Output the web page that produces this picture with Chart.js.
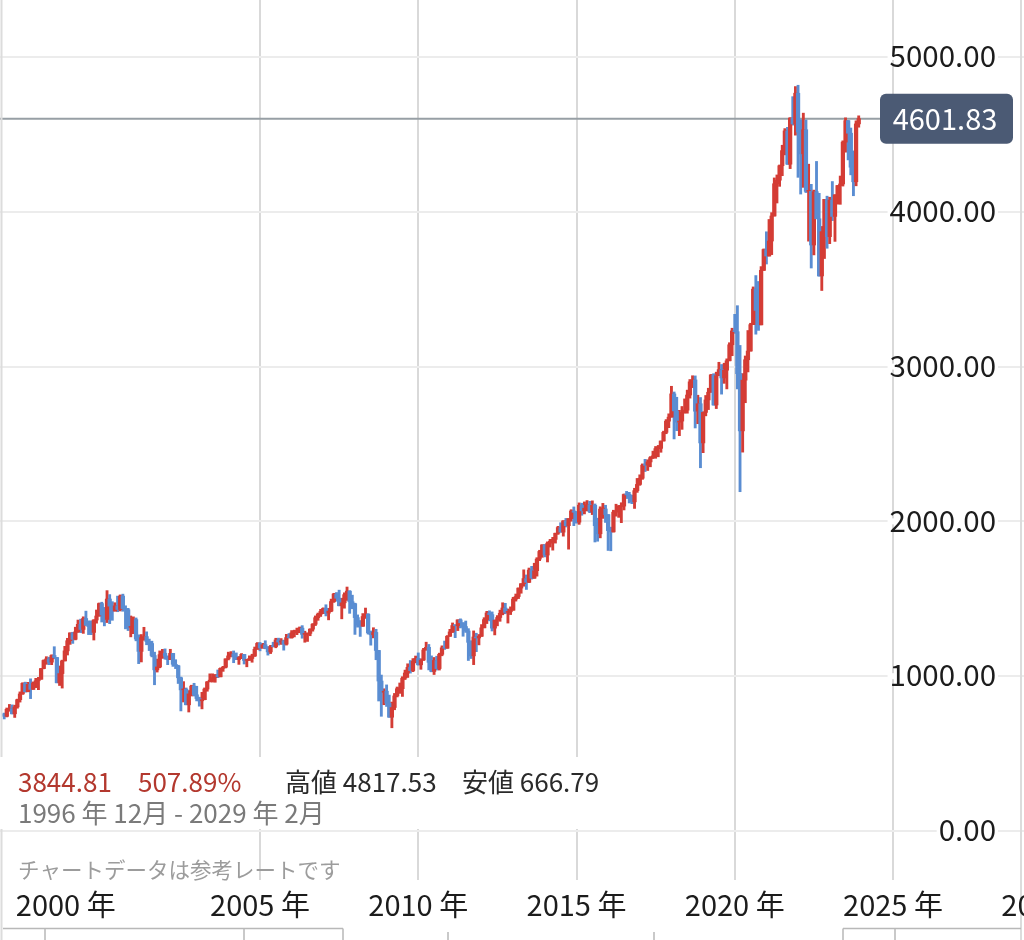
<!DOCTYPE html>
<html><head><meta charset="utf-8">
<script src="https://cdn.jsdelivr.net/npm/chart.js@4.4.1/dist/chart.umd.min.js"></script>
<style>html,body{margin:0;padding:0;background:#fff;overflow:hidden}#wrap{position:relative;width:1024px;height:940px}canvas{display:block}</style>
</head><body><div id="wrap"><canvas id="c" width="1024" height="940"></canvas></div>
<script>
// Monthly candles, S&P 500, Dec 1996 .. Dec 2023
const firstYear = 1996, firstMonth = 12;
const opens = [
757.02,
740.74,786.16,790.82,757.12,801.34,848.28,885.14,954.31,899.47,947.28,914.62,955.40,
970.43,980.28,1049.34,1101.75,1111.75,1090.82,1133.84,1120.67,957.28,1017.01,1098.67,1163.63,
1229.23,1279.64,1238.33,1286.37,1335.18,1301.84,1372.71,1328.72,1320.41,1282.71,1362.93,1388.91,
1469.25,1394.46,1366.42,1498.58,1452.43,1420.60,1454.60,1430.83,1517.68,1436.51,1429.40,1314.95,
1320.28,1366.01,1239.94,1160.33,1249.46,1255.82,1224.38,1211.23,1133.58,1040.94,1059.78,1139.45,
1148.08,1130.20,1106.73,1147.39,1076.92,1067.14,989.82,911.62,916.07,815.28,885.76,936.31,
879.82,855.70,841.15,848.18,916.92,963.59,974.50,990.31,1008.01,995.97,1050.71,1058.20,
1111.92,1131.13,1144.94,1126.21,1107.30,1120.68,1140.84,1101.72,1104.24,1114.58,1130.20,1173.82,
1211.92,1181.27,1203.60,1180.59,1156.85,1191.50,1191.33,1234.18,1220.33,1228.81,1207.01,1249.48,
1248.29,1280.08,1280.66,1294.83,1310.61,1270.09,1270.20,1276.66,1303.82,1335.85,1377.94,1400.63,
1418.30,1438.24,1406.82,1420.86,1482.37,1530.62,1503.35,1455.27,1473.99,1526.75,1549.38,1481.14,
1468.36,1378.55,1330.63,1322.70,1385.59,1400.38,1280.00,1267.38,1282.83,1166.36,968.75,896.24,
903.25,825.88,735.09,797.87,872.81,919.14,919.32,987.48,1020.62,1057.08,1036.19,1095.63,
1115.10,1073.87,1104.49,1169.43,1186.69,1089.41,1030.71,1101.60,1049.33,1141.20,1183.26,1180.55,
1257.64,1286.12,1327.22,1325.83,1363.61,1345.20,1320.64,1292.28,1218.89,1131.42,1253.30,1246.96,
1257.60,1312.41,1365.68,1408.47,1397.91,1310.33,1362.16,1379.32,1406.58,1440.67,1412.16,1416.18,
1426.19,1498.11,1514.68,1569.19,1597.57,1630.74,1606.28,1685.73,1632.97,1681.55,1756.54,1805.81,
1848.36,1782.59,1859.45,1872.34,1883.95,1923.57,1960.23,1930.67,2003.37,1972.29,2018.05,2067.56,
2058.90,1994.99,2104.50,2067.89,2085.51,2107.39,2063.11,2103.84,1972.18,1920.03,2079.36,2080.41,
2043.94,1940.24,1932.23,2059.74,2065.30,2096.95,2098.86,2173.60,2170.95,2168.27,2126.15,2198.81,
2238.83,2278.87,2363.64,2362.72,2384.20,2411.80,2423.41,2470.30,2471.65,2519.36,2575.26,2647.58,
2673.61,2823.81,2713.83,2640.87,2648.05,2705.27,2718.37,2816.29,2901.52,2913.98,2711.74,2760.17,
2506.85,2704.10,2784.49,2834.40,2945.83,2752.06,2941.76,2980.38,2926.46,2976.74,3037.56,3140.98,
3230.78,3225.52,2954.22,2584.59,2912.43,3044.31,3100.29,3271.12,3500.31,3363.00,3269.96,3621.63,
3756.07,3714.24,3811.15,3972.89,4181.17,4204.11,4297.50,4395.26,4522.68,4307.54,4605.38,4567.00,
4766.18,4515.55,4373.94,4530.41,4131.93,4132.15,3785.38,4130.29,3955.00,3585.62,3871.98,4080.11,
3839.50,4076.60,3970.15,4109.31,4169.48,4179.83,4450.38,4588.96,4507.66,4288.05,4193.80,4567.80
];
const highs = [
761.75,
794.67,817.68,814.90,812.93,851.87,898.70,957.73,961.63,960.46,983.12,963.18,986.25,
992.65,1050.02,1105.65,1126.16,1123.03,1138.49,1190.58,1121.33,1066.11,1103.78,1192.97,1244.93,
1280.05,1283.83,1316.55,1362.80,1368.62,1383.65,1420.33,1357.69,1357.74,1365.33,1427.67,1473.10,
1478.00,1444.55,1552.87,1527.19,1481.51,1474.64,1517.32,1525.21,1530.09,1454.82,1438.46,1389.06,
1383.37,1376.38,1267.42,1269.30,1315.93,1286.62,1239.78,1226.27,1155.40,1110.61,1163.38,1173.62,
1176.55,1130.20,1173.94,1147.84,1106.59,1070.74,994.46,965.00,924.02,907.44,941.82,954.28,
935.05,864.64,895.90,924.24,965.38,1015.33,1015.41,1011.01,1040.29,1053.79,1063.65,1112.56,
1155.38,1158.98,1163.23,1150.57,1127.74,1146.34,1140.84,1109.68,1131.54,1142.05,1188.46,1217.33,
1217.80,1212.44,1229.11,1191.88,1199.56,1219.59,1245.15,1245.86,1243.13,1233.34,1270.64,1275.80,
1294.90,1297.57,1310.88,1318.16,1326.70,1290.68,1280.42,1306.74,1340.28,1389.45,1407.89,1431.81,
1441.61,1461.57,1438.89,1498.02,1535.56,1540.56,1555.90,1503.89,1538.74,1576.09,1552.76,1523.57,
1471.77,1396.02,1359.68,1404.57,1440.24,1404.05,1292.17,1313.15,1303.04,1167.03,1007.51,918.85,
943.85,877.86,832.98,888.70,930.17,956.23,996.68,1039.47,1080.15,1101.36,1113.69,1130.38,
1150.45,1112.42,1180.16,1219.80,1205.13,1131.23,1120.95,1129.24,1148.90,1196.14,1227.08,1262.60,
1302.67,1344.07,1332.28,1364.56,1370.58,1345.20,1356.48,1307.38,1229.29,1292.66,1277.55,1269.37,
1333.47,1378.04,1419.15,1422.38,1415.32,1363.46,1391.74,1426.68,1474.51,1470.96,1434.27,1448.00,
1509.94,1530.94,1570.28,1597.57,1687.18,1654.19,1698.78,1709.67,1729.86,1765.67,1813.55,1849.44,
1850.84,1867.92,1883.97,1897.28,1924.03,1968.17,1991.39,2005.04,2019.26,2018.19,2075.76,2093.55,
2064.43,2119.59,2117.52,2125.92,2134.72,2129.87,2132.82,2112.66,2020.86,2094.32,2116.48,2104.27,
2044.02,1962.96,2072.21,2111.05,2103.48,2120.55,2177.09,2193.81,2187.87,2169.60,2214.10,2277.53,
2300.99,2371.54,2400.98,2398.16,2418.71,2453.82,2484.04,2490.87,2519.44,2582.98,2657.74,2694.97,
2872.87,2835.96,2801.90,2717.49,2742.24,2791.47,2848.03,2916.50,2940.91,2939.86,2815.15,2800.18,
2708.95,2813.49,2860.31,2949.52,2954.13,2964.15,3027.98,3013.59,3021.99,3050.10,3154.26,3247.93,
3337.77,3393.52,3136.72,2954.86,3068.67,3233.13,3279.99,3514.77,3588.11,3549.85,3645.99,3760.20,
3870.90,3950.43,3994.41,4218.78,4238.04,4302.43,4429.97,4537.36,4545.85,4608.08,4743.83,4808.93,
4817.53,4595.31,4637.30,4593.45,4307.66,4177.51,4140.15,4325.28,4119.28,3905.42,4080.11,4100.96,
4094.21,4195.44,4110.75,4170.06,4231.10,4458.48,4607.07,4590.00,4541.25,4393.57,4587.64,4620.00
];
const lows = [
723.80,
737.01,773.43,756.13,733.54,793.21,832.74,882.96,896.85,899.47,855.27,914.62,926.18,
912.83,980.28,1047.72,1076.70,1074.39,1074.67,1112.44,957.28,939.98,923.32,1098.67,1136.89,
1205.46,1211.89,1234.55,1282.56,1281.41,1276.53,1328.72,1268.68,1268.37,1233.66,1342.51,1387.38,
1350.14,1325.07,1346.62,1339.40,1361.09,1420.60,1416.54,1421.40,1419.44,1305.79,1294.90,1254.07,
1274.62,1228.42,1081.19,1091.99,1232.00,1203.03,1165.54,1124.87,944.75,1026.76,1054.31,1114.93,
1109.61,1074.36,1106.73,1063.46,1048.96,952.92,775.68,833.44,815.28,768.63,872.05,871.84,
840.34,806.29,788.90,847.85,902.83,963.59,962.10,960.84,990.36,995.97,1031.20,1053.41,
1105.08,1124.44,1087.16,1107.23,1076.32,1113.32,1078.78,1060.72,1101.29,1090.19,1127.60,1173.76,
1163.75,1180.95,1176.92,1136.15,1146.18,1188.30,1183.55,1201.07,1205.35,1168.20,1201.07,1246.59,
1245.74,1253.61,1268.42,1280.74,1245.34,1219.29,1224.54,1261.30,1290.93,1327.10,1360.98,1385.93,
1403.97,1389.42,1363.98,1416.37,1476.70,1484.18,1454.25,1370.60,1439.29,1489.56,1406.10,1435.65,
1270.05,1316.75,1256.98,1322.00,1373.07,1272.00,1200.44,1247.45,1106.42,839.80,741.02,815.69,
804.47,734.52,666.79,783.32,866.10,888.86,869.32,978.51,991.97,1019.95,1029.38,1085.89,
1071.59,1044.50,1101.36,1168.00,1040.78,1028.33,1010.91,1039.70,1039.70,1131.87,1173.00,1180.00,
1257.62,1282.00,1249.05,1294.70,1311.80,1258.07,1282.86,1101.54,1114.22,1074.77,1158.66,1202.37,
1257.00,1312.41,1340.03,1357.38,1291.98,1266.74,1325.41,1354.65,1396.56,1403.28,1343.35,1398.11,
1426.19,1485.01,1501.48,1536.03,1581.28,1560.33,1604.57,1627.47,1632.00,1646.47,1746.20,1767.99,
1770.45,1737.92,1834.44,1814.36,1859.79,1915.98,1930.67,1904.78,1964.04,1820.66,2001.01,1972.56,
1988.44,1980.90,2039.69,2048.38,2067.93,2056.32,2044.02,1867.01,1871.91,1893.70,2019.39,1993.26,
1812.29,1810.10,1931.00,2033.80,2025.91,1991.68,2074.02,2147.58,2119.12,2114.72,2083.79,2187.44,
2233.00,2271.65,2322.25,2328.95,2352.72,2405.70,2407.70,2417.35,2446.55,2519.00,2566.33,2605.52,
2673.00,2532.69,2585.89,2553.80,2594.62,2698.67,2698.95,2796.34,2864.12,2603.54,2631.09,2346.58,
2443.96,2681.83,2722.27,2834.00,2750.52,2728.81,2941.00,2822.12,2891.85,2855.94,3037.00,3070.33,
3214.64,2855.84,2191.86,2447.49,2766.64,2965.66,3100.00,3271.00,3209.45,3233.94,3269.00,3621.00,
3662.71,3714.00,3723.34,3972.00,4056.88,4164.40,4233.13,4367.73,4305.91,4278.94,4560.00,4495.12,
4222.62,4114.65,4157.87,4124.28,3810.32,3636.87,3721.56,3954.53,3584.13,3491.58,3698.15,3764.49,
3794.33,3943.08,3808.86,4049.35,4048.28,4166.15,4385.05,4335.31,4238.63,4103.78,4167.86,4546.50
];
const closes = [
740.74,
786.16,790.82,757.12,801.34,848.28,885.14,954.31,899.47,947.28,914.62,955.40,970.43,
980.28,1049.34,1101.75,1111.75,1090.82,1133.84,1120.67,957.28,1017.01,1098.67,1163.63,1229.23,
1279.64,1238.33,1286.37,1335.18,1301.84,1372.71,1328.72,1320.41,1282.71,1362.93,1388.91,1469.25,
1394.46,1366.42,1498.58,1452.43,1420.60,1454.60,1430.83,1517.68,1436.51,1429.40,1314.95,1320.28,
1366.01,1239.94,1160.33,1249.46,1255.82,1224.38,1211.23,1133.58,1040.94,1059.78,1139.45,1148.08,
1130.20,1106.73,1147.39,1076.92,1067.14,989.82,911.62,916.07,815.28,885.76,936.31,879.82,
855.70,841.15,848.18,916.92,963.59,974.50,990.31,1008.01,995.97,1050.71,1058.20,1111.92,
1131.13,1144.94,1126.21,1107.30,1120.68,1140.84,1101.72,1104.24,1114.58,1130.20,1173.82,1211.92,
1181.27,1203.60,1180.59,1156.85,1191.50,1191.33,1234.18,1220.33,1228.81,1207.01,1249.48,1248.29,
1280.08,1280.66,1294.83,1310.61,1270.09,1270.20,1276.66,1303.82,1335.85,1377.94,1400.63,1418.30,
1438.24,1406.82,1420.86,1482.37,1530.62,1503.35,1455.27,1473.99,1526.75,1549.38,1481.14,1468.36,
1378.55,1330.63,1322.70,1385.59,1400.38,1280.00,1267.38,1282.83,1166.36,968.75,896.24,903.25,
825.88,735.09,797.87,872.81,919.14,919.32,987.48,1020.62,1057.08,1036.19,1095.63,1115.10,
1073.87,1104.49,1169.43,1186.69,1089.41,1030.71,1101.60,1049.33,1141.20,1183.26,1180.55,1257.64,
1286.12,1327.22,1325.83,1363.61,1345.20,1320.64,1292.28,1218.89,1131.42,1253.30,1246.96,1257.60,
1312.41,1365.68,1408.47,1397.91,1310.33,1362.16,1379.32,1406.58,1440.67,1412.16,1416.18,1426.19,
1498.11,1514.68,1569.19,1597.57,1630.74,1606.28,1685.73,1632.97,1681.55,1756.54,1805.81,1848.36,
1782.59,1859.45,1872.34,1883.95,1923.57,1960.23,1930.67,2003.37,1972.29,2018.05,2067.56,2058.90,
1994.99,2104.50,2067.89,2085.51,2107.39,2063.11,2103.84,1972.18,1920.03,2079.36,2080.41,2043.94,
1940.24,1932.23,2059.74,2065.30,2096.95,2098.86,2173.60,2170.95,2168.27,2126.15,2198.81,2238.83,
2278.87,2363.64,2362.72,2384.20,2411.80,2423.41,2470.30,2471.65,2519.36,2575.26,2647.58,2673.61,
2823.81,2713.83,2640.87,2648.05,2705.27,2718.37,2816.29,2901.52,2913.98,2711.74,2760.17,2506.85,
2704.10,2784.49,2834.40,2945.83,2752.06,2941.76,2980.38,2926.46,2976.74,3037.56,3140.98,3230.78,
3225.52,2954.22,2584.59,2912.43,3044.31,3100.29,3271.12,3500.31,3363.00,3269.96,3621.63,3756.07,
3714.24,3811.15,3972.89,4181.17,4204.11,4297.50,4395.26,4522.68,4307.54,4605.38,4567.00,4766.18,
4515.55,4373.94,4530.41,4131.93,4132.15,3785.38,4130.29,3955.00,3585.62,3871.98,4080.11,3839.50,
4076.60,3970.15,4109.31,4169.48,4179.83,4450.38,4588.96,4507.66,4288.05,4193.80,4567.80,4601.83
];
const yTickValues = [0, 1000, 2000, 3000, 4000, 5000];
const xTickYears = [2000, 2005, 2010, 2015, 2020, 2025, 2030];
const rangeText = '1996 年 12月 - 2029 年 2月';
const noteText = 'チャートデータは参考レートです';

// ---- build ----
const xVals = closes.map((_, i) => {
  const m = (firstMonth - 1) + i;
  return firstYear + Math.floor(m / 12) + (m % 12) / 12;
});
const UP = '#d43c35', DOWN = '#5a8dd2';
const isUp = i => closes[i] >= opens[i];
const colorFn = ctx => isUp(ctx.dataIndex) ? UP : DOWN;
const FONT = '"Noto Sans CJK JP", "Noto Sans", sans-serif';

const decor = {
  id: 'decor',
  beforeDatasetsDraw(chart) {
    const ctx = chart.ctx, ys = chart.scales.y;
    const py = ys.getPixelForValue(closes[closes.length - 1]);
    ctx.save();
    ctx.strokeStyle = '#979fa5'; ctx.lineWidth = 2;
    ctx.beginPath(); ctx.moveTo(0, py); ctx.lineTo(880, py); ctx.stroke();
    ctx.restore();
  },
  afterDraw(chart) {
    const ctx = chart.ctx, ys = chart.scales.y, xs = chart.scales.x;
    ctx.save();
    // borders
    ctx.strokeStyle = '#dcdcdc'; ctx.lineWidth = 2;
    ctx.beginPath(); ctx.moveTo(1.5, 0); ctx.lineTo(1.5, 940); ctx.stroke();
    ctx.beginPath(); ctx.moveTo(1021, 0); ctx.lineTo(1021, 940); ctx.stroke();

    // y tick labels
    ctx.font = '29.5px ' + FONT;
    ctx.textAlign = 'right'; ctx.textBaseline = 'middle';
    yTickValues.forEach(v => {
      const y = ys.getPixelForValue(v);
      const t = v.toFixed(2);
      const w = ctx.measureText(t).width;
      ctx.fillStyle = '#ffffff';
      ctx.fillRect(996 - w - 2, y - 3, w + 4, 6);
      ctx.fillStyle = '#1c1c1c';
      ctx.fillText(t, 996, y - 1);
    });

    // x labels
    ctx.font = '29px ' + FONT;
    ctx.textAlign = 'center'; ctx.fillStyle = '#1c1c1c';
    xTickYears.forEach(yr => {
      let x = xs.getPixelForValue(yr);
      if (yr === xTickYears[0]) x -= 36;
      ctx.fillText(yr + ' 年', x, 905);
    });

    // price tag
    const last = closes[closes.length - 1];
    const py = ys.getPixelForValue(last);
    ctx.fillStyle = '#4b5a74';
    ctx.beginPath();
    if (ctx.roundRect) ctx.roundRect(880, py - 25, 133, 50, 6); else ctx.rect(880, py - 25, 133, 50);
    ctx.fill();
    ctx.fillStyle = '#ffffff'; ctx.font = '29px ' + FONT; ctx.textAlign = 'center';
    ctx.fillText(last.toFixed(2), 945, py);

    // info box
    ctx.fillStyle = '#ffffff';
    ctx.fillRect(0, 757, 605, 72);
    ctx.textAlign = 'left'; ctx.textBaseline = 'middle';
    const chg = last - opens[0];
    const pct = chg / opens[0] * 100;
    ctx.font = '26px ' + FONT;
    ctx.fillStyle = '#b3382e';
    ctx.fillText(chg.toFixed(2), 18, 782);
    ctx.fillText(pct.toFixed(2) + '%', 138, 782);
    ctx.fillStyle = '#2a2a2a';
    ctx.fillText('高値 ' + Math.max(...highs).toFixed(2), 285, 782);
    ctx.fillText('安値 ' + Math.min(...lows).toFixed(2), 462, 782);
    ctx.fillStyle = '#7a7a7a';
    ctx.fillText(rangeText, 18, 813);
    ctx.font = '21.5px ' + FONT;
    ctx.fillStyle = '#9c9c9c';
    ctx.fillText(noteText, 18, 870);

    // navigator strip
    ctx.strokeStyle = '#b8b8b8'; ctx.lineWidth = 1.5;
    ctx.beginPath();
    ctx.moveTo(3, 928.5); ctx.lineTo(343, 928.5);
    ctx.moveTo(843, 928.5); ctx.lineTo(1021, 928.5);
    [45, 244, 343, 843, 895].forEach(x => { ctx.moveTo(x, 928.5); ctx.lineTo(x, 940); });
    [448, 654].forEach(x => { ctx.moveTo(x, 932); ctx.lineTo(x, 940); });
    ctx.stroke();
    ctx.restore();
  }
};

new Chart(document.getElementById('c'), {
  type: 'bar',
  data: {
    datasets: [
      {
        label: 'wick',
        data: xVals.map((x, i) => ({ x: x, y: [lows[i], highs[i]] })),
        backgroundColor: colorFn, barThickness: 2.2, grouped: false, borderWidth: 0, order: 2
      },
      {
        label: 'body',
        data: xVals.map((x, i) => ({ x: x, y: [opens[i], closes[i]] })),
        backgroundColor: colorFn, barThickness: 3.6, grouped: false, borderWidth: 0, minBarLength: 1, order: 1
      }
    ]
  },
  options: {
    responsive: false, animation: false,
    layout: { padding: { left: 0, right: 0, top: 0, bottom: 60 } },
    plugins: { legend: { display: false }, tooltip: { enabled: false } },
    scales: {
      x: {
        type: 'linear', min: 1996.785, max: 2029.139, offset: false,
        afterBuildTicks: s => { s.ticks = xTickYears.map(v => ({ value: v })); },
        ticks: { display: false },
        grid: { offset: false, drawTicks: false, lineWidth: 2,
          color: c => (c.tick && c.tick.value === xTickYears[0]) ? 'rgba(0,0,0,0)' : '#d9d9d9' },
        border: { display: false }
      },
      y: {
        type: 'linear', position: 'right', min: -316.5, max: 5368.2,
        afterBuildTicks: s => { s.ticks = yTickValues.map(v => ({ value: v })); },
        ticks: { display: false },
        grid: { drawTicks: false, lineWidth: 2, color: '#ececec' },
        border: { display: false }
      }
    }
  },
  plugins: [decor]
});
</script>
</body></html>
